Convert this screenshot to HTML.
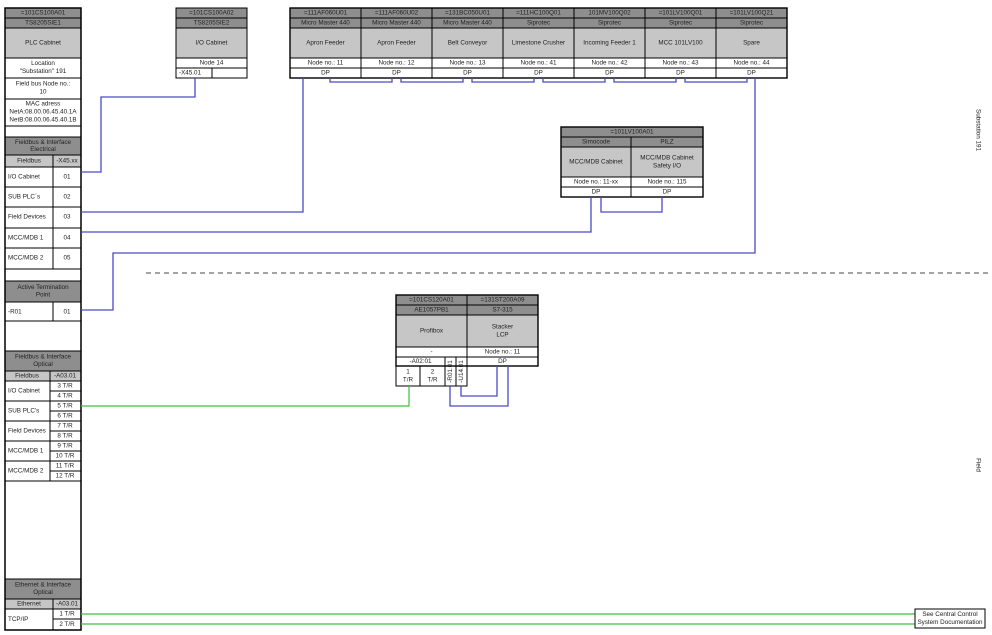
<!DOCTYPE html>
<html><head><meta charset="utf-8"><style>
html,body{margin:0;padding:0;background:#fff;}
svg{display:block;font-family:"Liberation Sans",sans-serif;}
text{font-size:6.3px;fill:#222;text-anchor:middle;dominant-baseline:central;}
.l{text-anchor:start;}
.d{fill:#8e8e8e;stroke:#000;stroke-width:1;}
.g{fill:#c6c6c6;stroke:#000;stroke-width:1;}
.w{fill:#fff;stroke:#000;stroke-width:1;}
.b{fill:none;stroke:#4a4ac8;stroke-width:1.3;}
.gr{fill:none;stroke:#3cc03c;stroke-width:1.2;}
</style></head><body>
<svg width="992" height="635" viewBox="0 0 992 635" xmlns="http://www.w3.org/2000/svg">
<!-- Left panel -->
<rect class="w" x="5" y="8" width="76" height="622" stroke-width="1.5"/>
<rect class="d" x="5" y="8" width="76" height="10"/><text x="43" y="13">=101CS100A01</text>
<rect class="d" x="5" y="18" width="76" height="10"/><text x="43" y="23">TS8205SIE1</text>
<rect class="g" x="5" y="28" width="76" height="30"/><text x="43" y="43">PLC Cabinet</text>
<rect class="w" x="5" y="58" width="76" height="20"/><text x="43" y="63.5">Location</text><text x="43" y="71.5">"Substation" 191</text>
<rect class="w" x="5" y="78" width="76" height="21"/><text x="43" y="84">Field bus Node no.:</text><text x="43" y="92">10</text>
<rect class="w" x="5" y="99" width="76" height="27"/><text x="43" y="104">MAC adress</text><text x="43" y="112">NetA:08.00.06.45.40.1A</text><text x="43" y="120">NetB:08.00.06.45.40.1B</text>
<rect class="d" x="5" y="137" width="76" height="18"/><text x="43" y="142.5">Fieldbus &amp; Interface</text><text x="43" y="149.5">Electrical</text>
<rect class="g" x="5" y="155" width="48" height="12"/><text x="29" y="161">Fieldbus</text>
<rect class="g" x="53" y="155" width="28" height="12"/><text x="67" y="161">-X45.xx</text>
<g>
<rect class="w" x="5" y="167" width="48" height="20"/><rect class="w" x="53" y="167" width="28" height="20"/><text class="l" x="8" y="177">I/O Cabinet</text><text x="67" y="177">01</text>
<rect class="w" x="5" y="187" width="48" height="20"/><rect class="w" x="53" y="187" width="28" height="20"/><text class="l" x="8" y="197">SUB PLC´s</text><text x="67" y="197">02</text>
<rect class="w" x="5" y="207" width="48" height="21"/><rect class="w" x="53" y="207" width="28" height="21"/><text class="l" x="8" y="217">Field Devices</text><text x="67" y="217">03</text>
<rect class="w" x="5" y="228" width="48" height="20"/><rect class="w" x="53" y="228" width="28" height="20"/><text class="l" x="8" y="238">MCC/MDB 1</text><text x="67" y="238">04</text>
<rect class="w" x="5" y="248" width="48" height="21"/><rect class="w" x="53" y="248" width="28" height="21"/><text class="l" x="8" y="258">MCC/MDB 2</text><text x="67" y="258">05</text>
</g>
<rect class="d" x="5" y="281" width="76" height="21"/><text x="43" y="287.5">Active Termination</text><text x="43" y="295">Point</text>
<rect class="w" x="5" y="302" width="48" height="19"/><rect class="w" x="53" y="302" width="28" height="19"/><text class="l" x="8" y="312">-R01</text><text x="67" y="312">01</text>

<rect class="d" x="5" y="351" width="76" height="20"/><text x="43" y="357">Fieldbus &amp; Interface</text><text x="43" y="364.5">Optical</text>
<rect class="g" x="5" y="371" width="45" height="10"/><text x="27" y="376">Fieldbus</text>
<rect class="g" x="50" y="371" width="31" height="10"/><text x="65" y="376">-A03.01</text>
<g>
<rect class="w" x="5" y="381" width="45" height="20"/><text class="l" x="8" y="391">I/O Cabinet</text>
<rect class="w" x="50" y="381" width="31" height="10"/><text x="65" y="386">3 T/R</text><rect class="w" x="50" y="391" width="31" height="10"/><text x="65" y="396">4 T/R</text>
<rect class="w" x="5" y="401" width="45" height="20"/><text class="l" x="8" y="411">SUB PLC's</text>
<rect class="w" x="50" y="401" width="31" height="10"/><text x="65" y="406">5 T/R</text><rect class="w" x="50" y="411" width="31" height="10"/><text x="65" y="416">6 T/R</text>
<rect class="w" x="5" y="421" width="45" height="20"/><text class="l" x="8" y="431">Field Devices</text>
<rect class="w" x="50" y="421" width="31" height="10"/><text x="65" y="426">7 T/R</text><rect class="w" x="50" y="431" width="31" height="10"/><text x="65" y="436">8 T/R</text>
<rect class="w" x="5" y="441" width="45" height="20"/><text class="l" x="8" y="451">MCC/MDB 1</text>
<rect class="w" x="50" y="441" width="31" height="10"/><text x="65" y="446">9 T/R</text><rect class="w" x="50" y="451" width="31" height="10"/><text x="65" y="456">10 T/R</text>
<rect class="w" x="5" y="461" width="45" height="20"/><text class="l" x="8" y="471">MCC/MDB 2</text>
<rect class="w" x="50" y="461" width="31" height="10"/><text x="65" y="466">11 T/R</text><rect class="w" x="50" y="471" width="31" height="10"/><text x="65" y="476">12 T/R</text>
</g>
<rect class="d" x="5" y="579" width="76" height="20"/><text x="43" y="585">Ethernet &amp; Interface</text><text x="43" y="592.5">Optical</text>
<rect class="g" x="5" y="599" width="48" height="10"/><text x="29" y="604">Ethernet</text>
<rect class="g" x="53" y="599" width="28" height="10"/><text x="67" y="604">-A03.01</text>
<rect class="w" x="5" y="609" width="48" height="21"/><text class="l" x="8" y="619.5">TCP/IP</text>
<rect class="w" x="53" y="609" width="28" height="10"/><text x="67" y="614">1 T/R</text>
<rect class="w" x="53" y="619" width="28" height="11"/><text x="67" y="624.5">2 T/R</text>
<rect x="5" y="8" width="76" height="622" fill="none" stroke="#000" stroke-width="1.5"/>

<!-- I/O Cabinet box -->
<rect class="d" x="176" y="8" width="71" height="10"/><text x="211.5" y="13">=101CS100A02</text>
<rect class="d" x="176" y="18" width="71" height="10"/><text x="211.5" y="23">TS8205SIE2</text>
<rect class="g" x="176" y="28" width="71" height="30"/><text x="211.5" y="43">I/O Cabinet</text>
<rect class="w" x="176" y="58" width="71" height="10"/><text x="211.5" y="63">Node 14</text>
<rect class="w" x="176" y="68" width="36" height="10"/><text class="l" x="179" y="73">-X45.01</text>
<rect class="w" x="212" y="68" width="35" height="10"/>

<!-- Top devices -->
<g>
<rect class="d" x="290" y="8" width="71" height="10"/><text x="325.5" y="13">=111AF060U01</text>
<rect class="d" x="290" y="18" width="71" height="10"/><text x="325.5" y="23">Micro Master 440</text>
<rect class="g" x="290" y="28" width="71" height="30"/><text x="325.5" y="43">Apron Feeder</text>
<rect class="w" x="290" y="58" width="71" height="10"/><text x="325.5" y="63">Node no.: 11</text>
<rect class="w" x="290" y="68" width="71" height="10"/><text x="325.5" y="73">DP</text>

<rect class="d" x="361" y="8" width="71" height="10"/><text x="396.5" y="13">=111AF060U02</text>
<rect class="d" x="361" y="18" width="71" height="10"/><text x="396.5" y="23">Micro Master 440</text>
<rect class="g" x="361" y="28" width="71" height="30"/><text x="396.5" y="43">Apron Feeder</text>
<rect class="w" x="361" y="58" width="71" height="10"/><text x="396.5" y="63">Node no.: 12</text>
<rect class="w" x="361" y="68" width="71" height="10"/><text x="396.5" y="73">DP</text>

<rect class="d" x="432" y="8" width="71" height="10"/><text x="467.5" y="13">=131BC050U01</text>
<rect class="d" x="432" y="18" width="71" height="10"/><text x="467.5" y="23">Micro Master 440</text>
<rect class="g" x="432" y="28" width="71" height="30"/><text x="467.5" y="43">Belt Conveyor</text>
<rect class="w" x="432" y="58" width="71" height="10"/><text x="467.5" y="63">Node no.: 13</text>
<rect class="w" x="432" y="68" width="71" height="10"/><text x="467.5" y="73">DP</text>

<rect class="d" x="503" y="8" width="71" height="10"/><text x="538.5" y="13">=111HC100Q01</text>
<rect class="d" x="503" y="18" width="71" height="10"/><text x="538.5" y="23">Siprotec</text>
<rect class="g" x="503" y="28" width="71" height="30"/><text x="538.5" y="43">Limestone Crusher</text>
<rect class="w" x="503" y="58" width="71" height="10"/><text x="538.5" y="63">Node no.: 41</text>
<rect class="w" x="503" y="68" width="71" height="10"/><text x="538.5" y="73">DP</text>

<rect class="d" x="574" y="8" width="71" height="10"/><text x="609.5" y="13">101MV100Q02</text>
<rect class="d" x="574" y="18" width="71" height="10"/><text x="609.5" y="23">Siprotec</text>
<rect class="g" x="574" y="28" width="71" height="30"/><text x="609.5" y="43">Incoming Feeder 1</text>
<rect class="w" x="574" y="58" width="71" height="10"/><text x="609.5" y="63">Node no.: 42</text>
<rect class="w" x="574" y="68" width="71" height="10"/><text x="609.5" y="73">DP</text>

<rect class="d" x="645" y="8" width="71" height="10"/><text x="680.5" y="13">=101LV100Q01</text>
<rect class="d" x="645" y="18" width="71" height="10"/><text x="680.5" y="23">Siprotec</text>
<rect class="g" x="645" y="28" width="71" height="30"/><text x="680.5" y="43">MCC 101LV100</text>
<rect class="w" x="645" y="58" width="71" height="10"/><text x="680.5" y="63">Node no.: 43</text>
<rect class="w" x="645" y="68" width="71" height="10"/><text x="680.5" y="73">DP</text>

<rect class="d" x="716" y="8" width="71" height="10"/><text x="751.5" y="13">=101LV100Q21</text>
<rect class="d" x="716" y="18" width="71" height="10"/><text x="751.5" y="23">Siprotec</text>
<rect class="g" x="716" y="28" width="71" height="30"/><text x="751.5" y="43">Spare</text>
<rect class="w" x="716" y="58" width="71" height="10"/><text x="751.5" y="63">Node no.: 44</text>
<rect class="w" x="716" y="68" width="71" height="10"/><text x="751.5" y="73">DP</text>
<rect x="290" y="8" width="497" height="70" fill="none" stroke="#000" stroke-width="1.4"/>
</g>
<path class="b" d="M330 78V82H392V78 M401 78V82H463V78 M472 78V82H534V78 M543 78V82H605V78 M614 78V82H676V78 M685 78V82H747V78"/>

<!-- Simocode / PILZ -->
<rect class="d" x="561" y="127" width="142" height="10"/><text x="632" y="132">=101LV100A01</text>
<rect class="d" x="561" y="137" width="70" height="10"/><text x="596" y="142">Simocode</text>
<rect class="d" x="631" y="137" width="72" height="10"/><text x="667" y="142">PILZ</text>
<rect class="g" x="561" y="147" width="70" height="30"/><text x="596" y="162">MCC/MDB Cabinet</text>
<rect class="g" x="631" y="147" width="72" height="30"/><text x="667" y="158">MCC/MDB Cabinet</text><text x="667" y="166">Safety I/O</text>
<rect class="w" x="561" y="177" width="70" height="10"/><text x="596" y="182">Node no.: 11-xx</text>
<rect class="w" x="631" y="177" width="72" height="10"/><text x="667" y="182">Node no.: 115</text>
<rect class="w" x="561" y="187" width="70" height="10"/><text x="596" y="192">DP</text>
<rect class="w" x="631" y="187" width="72" height="10"/><text x="667" y="192">DP</text>
<rect x="561" y="127" width="142" height="70" fill="none" stroke="#000" stroke-width="1.4"/>
<path class="b" d="M601 197V212H662V197"/>

<!-- Profibox / Stacker -->
<rect class="d" x="396" y="295" width="71" height="10"/><text x="431.5" y="300">=101CS120A01</text>
<rect class="d" x="396" y="305" width="71" height="10"/><text x="431.5" y="310">AE1057PB1</text>
<rect class="g" x="396" y="315" width="71" height="32"/><text x="431.5" y="331">Profibox</text>
<rect class="w" x="396" y="347" width="71" height="10"/><text x="431.5" y="352">-</text>
<rect class="w" x="396" y="357" width="49" height="9"/><text x="420.5" y="361.5">-A02:01</text>
<rect class="w" x="396" y="366" width="24" height="20"/><text x="408" y="372">1</text><text x="408" y="380">T/R</text>
<rect class="w" x="420" y="366" width="25" height="20"/><text x="432.5" y="372">2</text><text x="432.5" y="380">T/R</text>
<rect class="w" x="445" y="357" width="11" height="29"/><text transform="translate(450.5,371.5) rotate(-90)">-R01.01</text>
<rect class="w" x="456" y="357" width="11" height="29"/><text transform="translate(461.5,371.5) rotate(-90)">-U14.01</text>
<rect class="d" x="467" y="295" width="71" height="10"/><text x="502.5" y="300">=131ST200A09</text>
<rect class="d" x="467" y="305" width="71" height="10"/><text x="502.5" y="310">S7-315</text>
<rect class="g" x="467" y="315" width="71" height="32"/><text x="502.5" y="327">Stacker</text><text x="502.5" y="335">LCP</text>
<rect class="w" x="467" y="347" width="71" height="10"/><text x="502.5" y="352">Node no.: 11</text>
<rect class="w" x="467" y="357" width="71" height="9"/><text x="502.5" y="361.5">DP</text>
<rect x="396" y="295" width="142" height="71" fill="none" stroke="#000" stroke-width="1.4"/>
<path class="b" d="M450 386V406H508V366 M461 386V396H497V366"/>

<!-- Blue connectors -->
<path class="b" d="M81 172H101V97H195V78"/>
<path class="b" d="M81 212H303V78"/>
<path class="b" d="M81 232H591V197"/>
<path class="b" d="M81 310H113V253H755V78"/>

<line x1="146" y1="273" x2="990" y2="273" stroke="#444" stroke-width="0.9" stroke-dasharray="5,4"/>

<path class="gr" d="M81 406H409V386"/>
<path class="gr" d="M81 614H915 M81 624H915"/>
<rect class="w" x="915" y="609" width="70" height="19"/>
<text x="950" y="614.5">See Central Control</text><text x="950" y="622.5">System Documentation</text>

<text transform="translate(978,130) rotate(90)">Substation 191</text>
<text transform="translate(978,465) rotate(90)">Field</text>
</svg>
</body></html>
